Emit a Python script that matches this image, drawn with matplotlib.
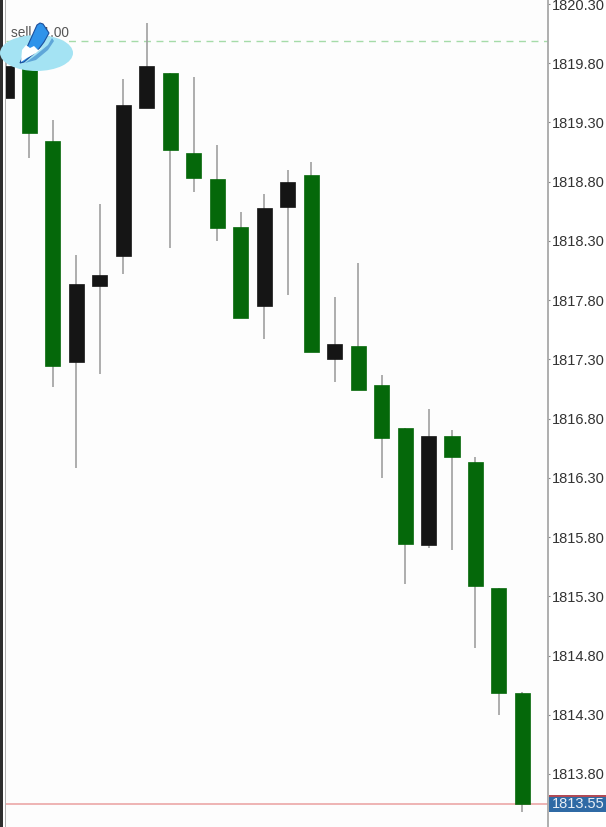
import numpy as np
import matplotlib
matplotlib.use("Agg")
import matplotlib.pyplot as plt
from matplotlib.patches import Ellipse, Polygon, Rectangle
from matplotlib.transforms import Affine2D

plt.rcParams['font.family'] = ['Liberation Sans', 'DejaVu Sans']

# candle prices, left to right
opens = [1819.51, 1819.78, 1819.14, 1817.28, 1817.92, 1818.17, 1819.42, 1819.72, 1819.04, 1818.82, 1818.42, 1817.75,
         1818.59, 1818.86, 1817.30, 1817.41, 1817.08, 1816.72, 1815.73, 1816.65, 1816.43, 1815.37, 1814.48]
closes = [1819.78, 1819.21, 1817.24, 1817.94, 1818.01, 1819.45, 1819.78, 1819.07, 1818.83, 1818.41, 1817.65, 1818.58,
          1818.80, 1817.36, 1817.43, 1817.04, 1816.64, 1815.74, 1816.65, 1816.48, 1815.39, 1814.48, 1813.55]
highs = [1819.85, 1819.80, 1819.32, 1818.18, 1818.61, 1819.67, 1820.14, 1819.72, 1819.68, 1819.11, 1818.54, 1818.70,
         1818.90, 1818.97, 1817.83, 1818.11, 1817.17, 1816.72, 1816.88, 1816.70, 1816.48, 1815.37, 1814.49]
lows = [1819.51, 1819.00, 1817.07, 1816.38, 1817.18, 1818.02, 1819.42, 1818.24, 1818.71, 1818.30, 1817.65, 1817.47,
        1817.84, 1817.36, 1817.11, 1817.04, 1816.30, 1815.40, 1815.71, 1815.69, 1814.86, 1814.30, 1813.48]

price_ticks = [1820.30, 1819.80, 1819.30, 1818.80, 1818.30, 1817.80, 1817.30, 1816.80,
               1816.30, 1815.80, 1815.30, 1814.80, 1814.30, 1813.80]
sell_price = 1819.99
last_price = 1813.55

GREEN = "#05680a"
BLACK = "#151515"
WICK = "#a0a0a0"
W, H = 606, 827

fig = plt.figure(figsize=(W / 100, H / 100), dpi=100, facecolor="white")
ax = fig.add_axes([6 / W, 0, 542 / W, 1], facecolor="#fdfdfd")

# 118.46 px per 1.0 of price, 1820.30 sits 4 px below the top
ax.set_ylim(1820.30 - 823 / 118.46, 1820.30 + 4 / 118.46)
ax.set_xlim(0, 23.09)

x = np.arange(len(opens))
opens, closes, highs, lows = map(np.array, (opens, closes, highs, lows))
colors = [GREEN if c < o else BLACK for o, c in zip(opens, closes)]

ax.vlines(x, lows, highs, color=WICK, lw=1.2, zorder=2)
ax.bar(x, np.abs(closes - opens), bottom=np.minimum(opens, closes), width=0.64,
       color=colors, edgecolor=colors, lw=0.5, zorder=3)

ax.axhline(sell_price, color="#a5dba8", lw=1, dashes=(5, 4), zorder=1)
ax.axhline(last_price, color="#eeb4b4", lw=1.4, zorder=1)

ax.yaxis.tick_right()
ax.set_yticks(price_ticks)
ax.set_yticklabels([f"{p:.2f}" for p in price_ticks])
ax.tick_params(axis="y", length=1.5, width=0.8, color="#888888", pad=1, labelsize=10.5, labelcolor="#333333")
ax.set_xticks([])
for side in ("top", "bottom", "left"):
    ax.spines[side].set_visible(False)
ax.spines["right"].set_color("#a8a8a8")
ax.spines["right"].set_linewidth(1.3)

# everything below is placed in image pixels (y downward)
px = Affine2D().scale(1 / W, -1 / H).translate(0, 1) + fig.transFigure

# dark edge and left axis line
fig.add_artist(Rectangle((0, 0), 3, H, transform=px, color="#2e2e2e", lw=0))
fig.add_artist(Rectangle((4.8, 0), 1.3, H, transform=px, color="#b0b0b0", lw=0, zorder=5))

# last price box
fig.add_artist(Rectangle((549, 795), 57, 17, transform=px, color="#2f6aa5", lw=0, zorder=5))
fig.add_artist(Rectangle((549, 795), 57, 1.5, transform=px, color="#b04a55", lw=0, zorder=6))
fig.text(552 / W, 1 - 804 / H, f"{last_price:.2f}", color="#e8eef5", fontsize=10.5, va="center", ha="left", zorder=7)

# order label, partly hidden by the logo
fig.text(10.5 / W, 1 - 33 / H, "sell   1.00", color="#555555", fontsize=9.8, va="center", ha="left", zorder=8)

# logo
fig.add_artist(Ellipse((36.5, 53), 73, 36, transform=px, color="#a4e3f3", lw=0, zorder=9))
fig.add_artist(Polygon([(20, 63), (37, 25), (40, 23), (43, 24), (49, 33), (44, 42), (38, 50), (24, 62)], transform=px,
                       facecolor="#2f93ea", edgecolor="#1c4f9c", lw=0.8, zorder=10))
fig.add_artist(Polygon([(21, 62), (22, 50), (26, 45), (30, 48), (34, 46), (38, 50), (43, 47), (36, 53), (27, 58)],
                       transform=px, facecolor="white", edgecolor="none", zorder=11))
fig.add_artist(Polygon([(25, 63), (36, 55), (48, 45), (52, 38), (54, 41), (48, 50), (36, 60)], transform=px,
                       facecolor="#5fa6d8", edgecolor="none", zorder=11))

fig.savefig("out.png", dpi=100)
